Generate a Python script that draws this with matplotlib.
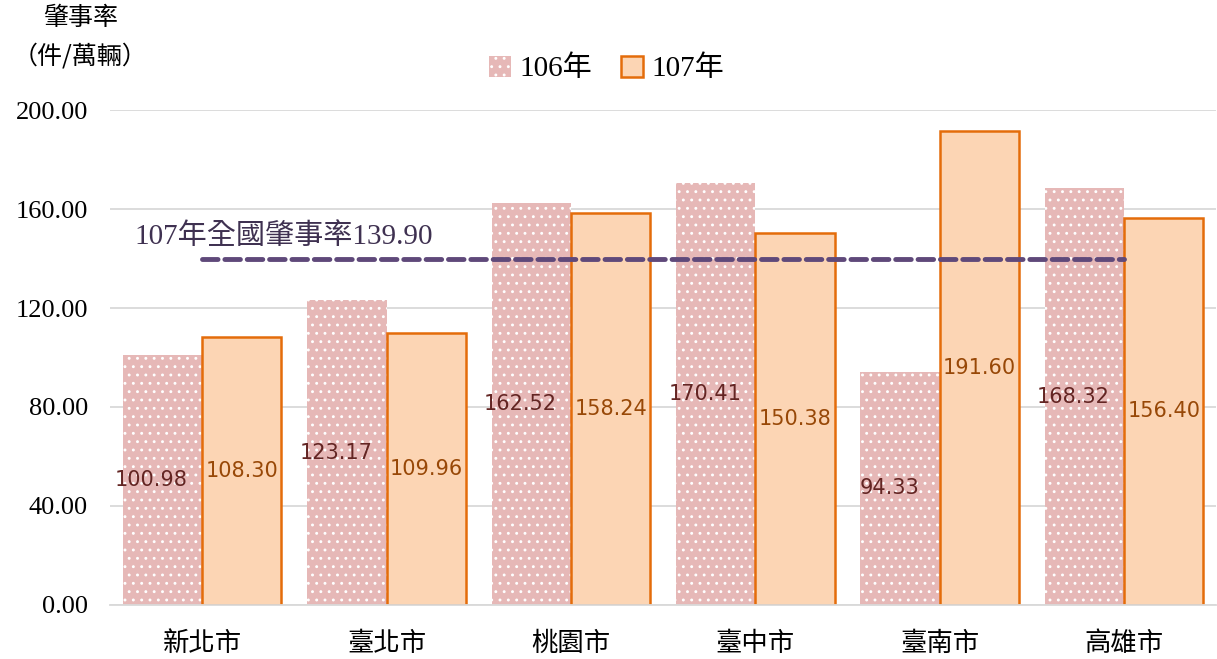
import matplotlib
matplotlib.use("Agg")
import matplotlib.pyplot as plt
import numpy as np

plt.rcParams['font.family'] = ['Liberation Serif', 'Noto Sans CJK TC']
plt.rcParams['hatch.linewidth'] = 0.9

cities = ['新北市', '臺北市', '桃園市', '臺中市', '臺南市', '高雄市']
rate_106 = [100.98, 123.17, 162.52, 170.41, 94.33, 168.32]
rate_107 = [108.30, 109.96, 158.24, 150.38, 191.60, 156.40]
national_107 = 139.90
yticks = [0, 40, 80, 120, 160, 200]

fig = plt.figure(figsize=(12.17, 6.59), dpi=100)
ax = fig.add_axes([0.0904, 0.082, 0.909, 0.751])

x = np.arange(len(cities))
w = 0.43

b1 = ax.bar(x - w / 2, rate_106, w, color='#E6B8B7', edgecolor='white',
            linewidth=0, hatch='..', label='106年', zorder=2)
b2 = ax.bar(x + w / 2, rate_107, w, color='#FCD5B4', edgecolor='#E46C0A',
            linewidth=1.8, label='107年', zorder=2)

for rect, v in zip(b1, rate_106):
    ax.text(rect.get_x() + rect.get_width() / 2 - 0.06, v / 2, f'{v:.2f}',
            ha='center', va='center', fontsize=15, color='#632523',
            family='DejaVu Sans', zorder=4)
for rect, v in zip(b2, rate_107):
    ax.text(rect.get_x() + rect.get_width() / 2, v / 2, f'{v:.2f}',
            ha='center', va='center', fontsize=15, color='#984807',
            family='DejaVu Sans', zorder=4)

# national average line
ax.plot([x[0], x[-1]], [national_107, national_107], color='#5F497A',
        linewidth=3.5, linestyle=(0, (3.2, 1.4)), dash_capstyle='round',
        zorder=3)
ax.text(-0.37, national_107 + 3.5, f'107年全國肇事率{national_107:.2f}',
        fontsize=21, color='#3F3151', va='bottom', ha='left',
        family=['Liberation Serif', 'Noto Sans CJK TC'])

ax.set_xlim(-0.5, len(cities) - 0.5)
ax.set_ylim(0, 200)
ax.set_yticks(yticks)
ax.set_yticklabels([f'{t:.2f}' for t in yticks], fontsize=19)
ax.set_xticks(x)
ax.set_xticklabels(cities, fontsize=19, family='Noto Sans CJK TC')
ax.tick_params(axis='y', length=0, pad=16)
ax.tick_params(axis='x', length=0, pad=18)
ax.grid(axis='y', color='#D9D9D9', linewidth=1.3, zorder=0)
ax.set_axisbelow(True)
for s in ['top', 'right', 'left']:
    ax.spines[s].set_visible(False)
ax.spines['bottom'].set_color('#D9D9D9')
ax.spines['bottom'].set_linewidth(1.3)

fig.text(0.066, 0.972, '肇事率', ha='center', va='center', fontsize=18,
         family='Noto Sans CJK TC')
fig.text(0.066, 0.914, '（件/萬輛）', ha='center', va='center', fontsize=18,
         family='Noto Sans CJK TC')

leg = ax.legend(loc='center', bbox_to_anchor=(0.449, 1.083), ncol=2,
                frameon=False, handlelength=0.75,
                handleheight=0.75, columnspacing=1.0, handletextpad=0.3,
                prop={'family': ['Liberation Serif', 'Noto Sans CJK TC'], 'size': 21})

fig.savefig('out.png', dpi=100)
